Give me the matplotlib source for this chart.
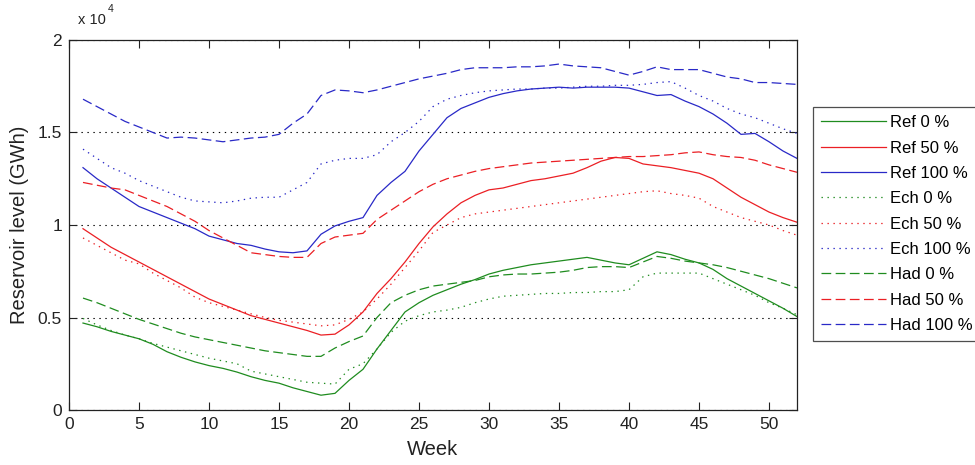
import matplotlib
matplotlib.use("Agg")
import matplotlib.pyplot as plt
import numpy as np

plt.rcParams['font.family'] = ['Liberation Sans', 'DejaVu Sans']
plt.rcParams['lines.scale_dashes'] = False

weeks = np.arange(1, 53)

ref_0 = [4700, 4500, 4250, 4050, 3850, 3550, 3150, 2850, 2600, 2400, 2250, 2050, 1800,
         1600, 1450, 1200, 1000, 800, 900, 1600, 2200, 3300, 4300, 5300, 5800, 6200,
         6500, 6800, 7050, 7350, 7550, 7700, 7850, 7950, 8050, 8150, 8250, 8100, 7950,
         7850, 8200, 8550, 8400, 8150, 7950, 7600, 7100, 6700, 6300, 5900, 5500, 5050]
ref_50 = [9800, 9300, 8800, 8400, 8000, 7600, 7200, 6800, 6400, 6000, 5700, 5400, 5100,
          4900, 4700, 4500, 4300, 4050, 4100, 4600, 5300, 6300, 7100, 8000, 9000, 9900,
          10600, 11200, 11600, 11900, 12000, 12200, 12400, 12500, 12650, 12800, 13100,
          13450, 13650, 13600, 13300, 13200, 13100, 12950, 12800, 12500, 12000, 11500,
          11100, 10700, 10400, 10150]
ref_100 = [13100, 12500, 12000, 11500, 11000, 10700, 10400, 10100, 9800, 9400, 9200, 9000,
           8900, 8700, 8550, 8500, 8600, 9500, 9950, 10200, 10400, 11600, 12300, 12900,
           14000, 14900, 15800, 16300, 16600, 16900, 17100, 17250, 17350, 17400, 17450,
           17400, 17450, 17450, 17450, 17400, 17200, 17000, 17050, 16700, 16400, 16000,
           15500, 14900, 14950, 14500, 14000, 13600]
ech_0 = [4950, 4600, 4300, 4050, 3850, 3600, 3400, 3200, 3000, 2800, 2650, 2500, 2100,
         1950, 1800, 1650, 1500, 1450, 1400, 2200, 2500, 3300, 4200, 4800, 5100, 5300,
         5400, 5550, 5800, 6000, 6150, 6200, 6250, 6300, 6300, 6350, 6350, 6400, 6400,
         6500, 7200, 7400, 7400, 7400, 7400, 7100, 6800, 6500, 6200, 5800, 5500, 5150]
ech_50 = [9300, 8900, 8500, 8100, 7900, 7400, 7000, 6600, 6100, 5800, 5600, 5400, 5200,
          5000, 4850, 4750, 4650, 4550, 4600, 4900, 5300, 6000, 6800, 7700, 8600, 9600,
          10000, 10400, 10600, 10700, 10800, 10900, 11000, 11100, 11200, 11300, 11400,
          11500, 11600, 11700, 11800, 11850, 11700, 11600, 11450, 11000, 10700, 10400,
          10200, 10000, 9700, 9450]
ech_100 = [14100, 13600, 13100, 12800, 12400, 12100, 11800, 11500, 11300, 11250, 11200,
           11300, 11450, 11500, 11500, 11900, 12300, 13300, 13500, 13600, 13600, 13800,
           14500, 15000, 15600, 16400, 16800, 17000, 17150, 17250, 17300, 17350, 17350,
           17400, 17400, 17450, 17500, 17500, 17550, 17550, 17600, 17700, 17750, 17400,
           17000, 16700, 16300, 16000, 15800, 15500, 15200, 14950]
had_0 = [6050, 5800, 5500, 5200, 4900, 4650, 4400, 4150, 3950, 3800, 3650, 3500, 3350,
         3200, 3100, 3000, 2900, 2900, 3350, 3700, 4000, 5000, 5800, 6200, 6500, 6700,
         6800, 6900, 7000, 7200, 7300, 7350, 7350, 7400, 7450, 7550, 7700, 7750, 7750,
         7700, 8000, 8300, 8200, 8050, 7950, 7850, 7700, 7500, 7300, 7100, 6850, 6600]
had_50 = [12300, 12150, 12000, 11900, 11600, 11300, 11000, 10600, 10200, 9700, 9300, 8900,
          8500, 8400, 8300, 8250, 8250, 9000, 9350, 9450, 9550, 10300, 10800, 11300, 11800,
          12200, 12500, 12700, 12900, 13050, 13150, 13250, 13350, 13400, 13450, 13500,
          13550, 13600, 13650, 13700, 13700, 13750, 13800, 13900, 13950, 13800, 13700,
          13650, 13500, 13250, 13050, 12850]
had_100 = [16800, 16400, 16000, 15600, 15300, 15000, 14700, 14750, 14700, 14600, 14500,
           14600, 14700, 14750, 14900, 15500, 16000, 17000, 17300, 17250, 17150, 17300,
           17500, 17700, 17900, 18050, 18200, 18400, 18500, 18500, 18500, 18550, 18550,
           18600, 18700, 18600, 18550, 18500, 18300, 18100, 18300, 18550, 18400, 18400,
           18400, 18200, 18000, 17900, 17700, 17700, 17650, 17600]

labels = ['Ref 0 %', 'Ref 50 %', 'Ref 100 %', 'Ech 0 %', 'Ech 50 %', 'Ech 100 %',
          'Had 0 %', 'Had 50 %', 'Had 100 %']
series = [ref_0, ref_50, ref_100, ech_0, ech_50, ech_100, had_0, had_50, had_100]

green = (0.12, 0.55, 0.12)
red = (0.92, 0.12, 0.14)
blue = (0.16, 0.16, 0.78)
colors = [green, red, blue] * 3
dash_dot = (0, (1.0, 3.3))
dash_dash = (0, (7.0, 3.2))
styles = ['-'] * 3 + [dash_dot] * 3 + [dash_dash] * 3

fig = plt.figure(figsize=(9.75, 4.65), dpi=100)
ax = fig.add_axes([69 / 975, 55 / 465, (797 - 69) / 975, (410 - 40) / 465])

for vals, lab, col, ls in zip(series, labels, colors, styles):
    ax.plot(weeks, vals, color=col, linestyle=ls, linewidth=0.9, label=lab)

ax.set_xlim(0, 52)
ax.set_ylim(0, 20000)
ax.set_xticks(np.arange(0, 51, 5))
ax.set_yticks(np.arange(0, 20001, 5000))
ax.set_yticklabels(['0', '0.5', '1', '1.5', '2'])
ax.yaxis.grid(True, color='black', linestyle=(0, (1.0, 3.3)), linewidth=0.8)
ax.set_axisbelow(True)
ax.tick_params(direction='in', top=True, right=True, length=6, width=0.8,
               labelsize=12.5, colors='#222222', pad=5)
for sp in ax.spines.values():
    sp.set_linewidth(0.9)
    sp.set_color('#222222')

ax.set_xlabel('Week', fontsize=14.5, color='#222222', labelpad=6)
ax.set_ylabel('Reservoir level (GWh)', fontsize=14.5, color='#222222', labelpad=6)

ax.text(0.012, 1.035, 'x 10', transform=ax.transAxes, fontsize=10.5,
        color='#222222', ha='left', va='bottom')
ax.text(0.053, 1.07, '4', transform=ax.transAxes, fontsize=7.5,
        color='#222222', ha='left', va='bottom')

leg = ax.legend(loc='upper left', bbox_to_anchor=(813 / 975, 1 - 107 / 465),
                bbox_transform=fig.transFigure, fontsize=12, frameon=True,
                fancybox=False, edgecolor='#222222', handlelength=3.9,
                handletextpad=0.2, labelspacing=0.62, borderpad=0.5,
                borderaxespad=0)
leg.get_frame().set_linewidth(0.9)

fig.savefig('out.png', dpi=100)
